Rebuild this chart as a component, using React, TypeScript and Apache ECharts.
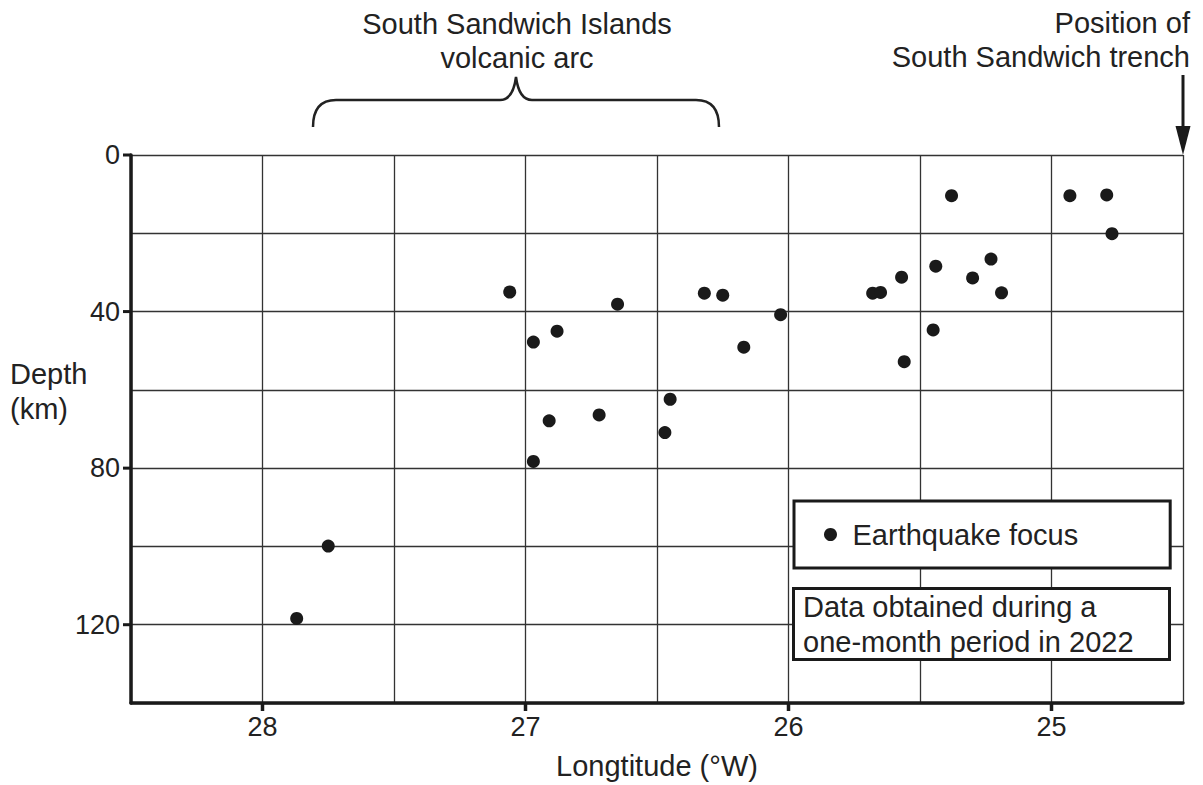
import React, { useEffect, useRef } from "react";
import * as echarts from "echarts";

// Earthquake foci: longitude (°W) and depth (km)
const longitudes = [
  27.87, 27.75, 27.06, 26.97, 26.88, 26.91, 26.97, 26.72, 26.65, 26.45,
  26.47, 26.32, 26.25, 26.17, 26.03, 25.68, 25.65, 25.57, 25.56, 25.44,
  25.45, 25.38, 25.3, 25.23, 25.19, 24.93, 24.79, 24.77,
];
const depths = [
  118.4, 99.9, 35.0, 47.8, 45.0, 67.9, 78.3, 66.4, 38.1, 62.4,
  70.9, 35.3, 35.8, 49.1, 40.8, 35.3, 35.1, 31.2, 52.8, 28.4,
  44.7, 10.4, 31.4, 26.6, 35.2, 10.4, 10.2, 20.1,
];
const lonTickLabels = [28, 27, 26, 25];
const depthTickLabels = [0, 40, 80, 120];
const seriesName = "Earthquake focus";
const xTitle = "Longtitude (°W)";
const yTitle = "Depth\n(km)";
const arcLabel = "South Sandwich Islands\nvolcanic arc";
const trenchLabel = "Position of\nSouth Sandwich trench";
const noteText = "Data obtained during a\none-month period in 2022";

const FONT = "'Liberation Sans', Arial, Helvetica, sans-serif";
const INK = "#1a1a1a";
const LON_MIN = 24.5;
const LON_MAX = 28.5;
const DEPTH_MAX = 140;

let braceRegistered = false;
function registerBrace() {
  if (braceRegistered) return;
  const d =
    "M313,127 Q313,100 336,100 L500,100 Q513,100 516,77 Q519,100 532,100 L696,100 Q719,100 719,127";
  echarts.graphic.registerShape("brace", echarts.graphic.extendPath(d, {}) as any);
  braceRegistered = true;
}

export default function App() {
  const ref = useRef<HTMLDivElement | null>(null);

  useEffect(() => {
    document.body.style.margin = "0";
    if (!ref.current) return;
    registerBrace();
    const chart = echarts.init(ref.current, null, { renderer: "svg" });
    const data = longitudes.map((lon, i) => [lon, depths[i]]);

    const baseGraphic: any[] = [
      {
        type: "text",
        x: 10,
        y: 356,
        style: {
          text: yTitle,
          fontSize: 29,
          lineHeight: 35,
          fontFamily: FONT,
          fill: "#222",
          align: "left",
          verticalAlign: "top",
        },
      },
      {
        type: "text",
        x: 517,
        y: 7,
        style: {
          text: arcLabel,
          fontSize: 29,
          lineHeight: 34,
          fontFamily: FONT,
          fill: "#222",
          align: "center",
          verticalAlign: "top",
        },
      },
      {
        type: "text",
        x: 1190,
        y: 6,
        style: {
          text: trenchLabel,
          fontSize: 29,
          lineHeight: 34,
          fontFamily: FONT,
          fill: "#222",
          align: "right",
          verticalAlign: "top",
        },
      },
      {
        type: "brace",
        x: 0,
        y: 0,
        style: { fill: "none", stroke: "#222", lineWidth: 2.5 },
      },
      {
        type: "line",
        shape: { x1: 1183, y1: 75, x2: 1183, y2: 130 },
        style: { stroke: INK, lineWidth: 3 },
      },
      {
        type: "polygon",
        shape: { points: [[1175.5, 126], [1190.5, 126], [1183, 155]] },
        style: { fill: INK },
      },
      {
        type: "rect",
        shape: { x: 793.5, y: 588.5, width: 376, height: 71 },
        style: { fill: "#fff", stroke: INK, lineWidth: 3 },
        z: 10,
      },
      {
        type: "text",
        x: 803,
        y: 589,
        z: 11,
        style: {
          text: noteText,
          fontSize: 29,
          lineHeight: 35,
          fontFamily: FONT,
          fill: "#222",
          align: "left",
          verticalAlign: "top",
        },
      },
    ];

    const option: any = {
      animation: false,
      backgroundColor: "#fff",
      textStyle: { fontFamily: FONT, color: "#222" },
      grid: { left: 131, right: 20, top: 155, bottom: 81 },
      legend: {
        show: true,
        data: [seriesName],
        left: 794,
        top: 501,
        icon: "circle",
        itemWidth: 34,
        itemHeight: 13,
        padding: [19, 92, 19, 30],
        borderColor: INK,
        borderWidth: 3,
        backgroundColor: "#fff",
        selectedMode: false,
        itemStyle: { opacity: 1 },
        textStyle: { fontSize: 29, color: "#222", fontFamily: FONT },
      },
      xAxis: [
        {
          type: "value",
          min: LON_MIN,
          max: LON_MAX,
          interval: 0.5,
          inverse: true,
          position: "bottom",
          axisLine: { show: true, onZero: false, lineStyle: { color: INK, width: 3.5 } },
          axisTick: { show: false },
          axisLabel: { show: false },
          splitLine: { show: true, lineStyle: { color: "#333", width: 1.3 } },
          name: xTitle,
          nameLocation: "middle",
          nameGap: 48,
          nameTextStyle: { fontSize: 29, color: "#222", fontFamily: FONT },
        },
        {
          type: "value",
          min: LON_MIN,
          max: LON_MAX,
          inverse: true,
          position: "bottom",
          axisLine: { show: false, onZero: false },
          splitLine: { show: false },
          axisTick: { show: false },
          axisLabel: {
            show: true,
            customValues: lonTickLabels,
            margin: 10,
            fontSize: 27,
            color: "#222",
            fontFamily: FONT,
          },
        },
      ],
      yAxis: [
        {
          type: "value",
          min: 0,
          max: DEPTH_MAX,
          interval: 20,
          inverse: true,
          position: "left",
          axisLine: { show: true, onZero: false, lineStyle: { color: INK, width: 3.5 } },
          axisTick: { show: false },
          axisLabel: { show: false },
          splitLine: { show: true, lineStyle: { color: "#333", width: 1.3 } },
        },
        {
          type: "value",
          min: 0,
          max: DEPTH_MAX,
          inverse: true,
          position: "left",
          axisLine: { show: false, onZero: false },
          splitLine: { show: false },
          axisTick: { show: false },
          axisLabel: {
            show: true,
            customValues: depthTickLabels,
            margin: 11,
            fontSize: 27,
            color: "#222",
            fontFamily: FONT,
          },
        },
      ],
      series: [
        {
          name: seriesName,
          type: "scatter",
          xAxisIndex: 0,
          yAxisIndex: 0,
          symbol: "circle",
          symbolSize: 13,
          itemStyle: { color: INK, opacity: 1 },
          data,
          z: 5,
        },
      ],
      graphic: baseGraphic,
    };

    chart.setOption(option);

    // Axis ticks at the labelled values, placed through the chart's own scales
    const bottomY = chart.convertToPixel({ yAxisIndex: 0 }, DEPTH_MAX) as number;
    const leftX = chart.convertToPixel({ xAxisIndex: 0 }, LON_MAX) as number;
    const tickEls: any[] = [];
    lonTickLabels.forEach((v) => {
      const px = chart.convertToPixel({ xAxisIndex: 0 }, v) as number;
      tickEls.push({
        type: "line",
        z: 6,
        shape: { x1: px, y1: bottomY, x2: px, y2: bottomY + 8 },
        style: { stroke: INK, lineWidth: 3.5 },
      });
    });
    depthTickLabels.forEach((v) => {
      const py = chart.convertToPixel({ yAxisIndex: 0 }, v) as number;
      tickEls.push({
        type: "line",
        z: 6,
        shape: { x1: leftX - 8, y1: py, x2: leftX, y2: py },
        style: { stroke: INK, lineWidth: 3 },
      });
    });
    chart.setOption({ graphic: [...baseGraphic, ...tickEls] });

    return () => {
      chart.dispose();
    };
  }, []);

  return <div ref={ref} style={{ width: 1203, height: 785 }} />;
}
